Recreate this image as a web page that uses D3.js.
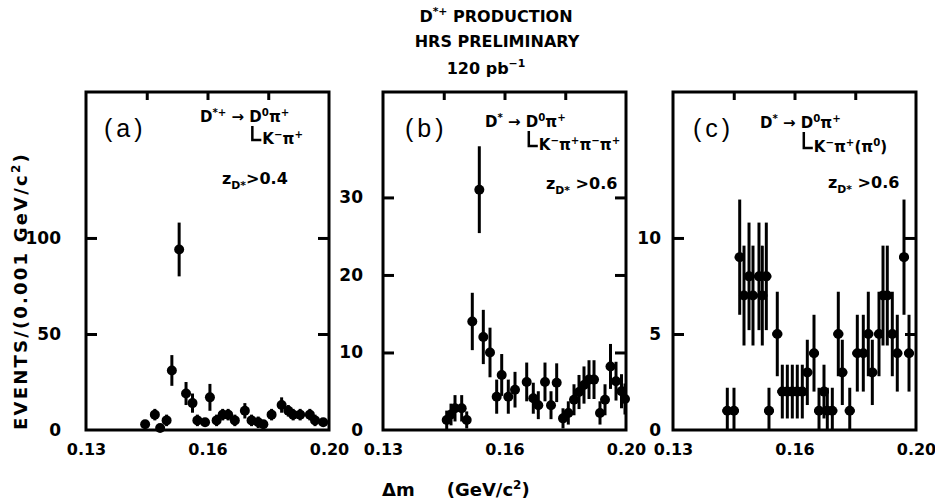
<!DOCTYPE html>
<html><head><meta charset="utf-8">
<script src="https://cdn.jsdelivr.net/npm/d3@7"></script>
<style>body{margin:0;background:#fff} svg{display:block}</style>
</head><body>
<svg id="c" width="935" height="504"></svg>
<script>
// ---- data ----
const xTicks = [0.13, 0.16, 0.20];
const xTickLabels = ["0.13", "0.16", "0.20"];
const xTopTicks = [0.145, 0.16, 0.18];

const aX = [0.1446,0.1470,0.1483,0.1499,0.1512,0.1530,0.1547,0.1563,0.1575,0.1594,0.1608,0.1630,0.1650,0.1668,0.1690,0.1723,0.1745,0.1767,0.1784,0.1811,0.1844,0.1866,0.1882,0.1905,0.1937,0.1954,0.1981];
const aY = [3,8,1,5,31,94,19,14,5,4,17,5,8,8,5,10,5,4,3,8,13,10,8,8,8,5,4];
const aErr = [2,3,2,3,8,14,6,5,3,2,7,3,3,3,3,4,3,3,2,3,4,3,3,3,3,3,2];
const aTicks = [0,50,100];

const bX = [0.14573,0.14679,0.14778,0.14943,0.15067,0.15205,0.15378,0.15477,0.15642,0.15807,0.15931,0.16125,0.16346,0.16731,0.16948,0.17113,0.17333,0.17531,0.17718,0.17926,0.18101,0.18288,0.18453,0.18617,0.18782,0.18947,0.19144,0.19309,0.19490,0.19671,0.19852,0.19967];
const bY = [1.3,2,2.8,2.8,1.3,14,31,12,10,4.3,7.1,4.3,5.2,6.2,4.1,3.2,6.2,3.2,6.1,1.5,2.2,3.9,4.9,5.8,6.5,6.5,2.2,3.9,8.2,6.3,5,4];
const bErr = [1.2,1.4,1.7,1.7,1.1,3.7,5.6,3.5,3.2,2.2,2.7,2.2,2.3,2.5,2,1.8,2.5,1.8,2.5,1.3,1.5,2,2.2,2.4,2.5,2.5,1.5,2,2.9,2.5,2.2,2];
const bTicks = [0,10,20,30];

const cX = [0.14341,0.14506,0.14647,0.14753,0.14877,0.14975,0.15123,0.15205,0.15304,0.15370,0.15575,0.15699,0.15823,0.15946,0.16092,0.16257,0.16422,0.16642,0.16807,0.16971,0.17080,0.17245,0.17442,0.17574,0.17819,0.18068,0.18265,0.18430,0.18562,0.18782,0.18914,0.19055,0.19220,0.19384,0.19605,0.19770];
const cY = [1,1,9,7,8,7,8,7,8,1,5,2,2,2,2,2,3,4,1,2,1,1,5,3,1,4,4,5,3,5,7,7,5,4,9,4];
const cErr = [1.2,1.2,3,2.6,2.8,2.6,2.8,2.6,2.8,1.2,2.2,1.4,1.4,1.4,1.4,1.4,1.7,2,1.2,1.4,1.2,1.2,2.2,1.7,1.2,2,2,2.2,1.7,2.2,2.6,2.6,2.2,2,3,2];
const cTicks = [0,5,10];

// ---- layout ----
const W = 243, TOP = 92, BOT = 430;
const FONT = "'DejaVu Sans', sans-serif";
const AF = 15; // annotation font size
const panels = [
  {left:86,  ymax:176,  ticks:aTicks, xs:aX, ys:aY, es:aErr, pad:25, tag:"(a)", tagX:104,
   l1:[["D"],["*+","sup"],[" → "],["D"],["0","sup"],["π"],["+","sup"]], l1x:200, l1y:122,
   l2:[["K"],["−","sup"],["π"],["+","sup"]], l2y:144,
   l3:[["z"],["D*","sub"],[">0.4"]], l3x:222, l3y:184, hbar:false},
  {left:383, ymax:43.6, ticks:bTicks, xs:bX, ys:bY, es:bErr, pad:20, tag:"(b)", tagX:405,
   l1:[["D"],["*","sup"],[" → "],["D"],["0","sup"],["π"],["+","sup"]], l1x:485, l1y:127,
   l2:[["K"],["−","sup"],["π"],["+","sup"],["π"],["−","sup"],["π"],["+","sup"]], l2y:150,
   l3:[["z"],["D*","sub"],[" >0.6"]], l3x:546, l3y:189, hbar:false},
  {left:673, ymax:17.6, ticks:cTicks, xs:cX, ys:cY, es:cErr, pad:12, tag:"(c)", tagX:693,
   l1:[["D"],["*","sup"],[" → "],["D"],["0","sup"],["π"],["+","sup"]], l1x:760, l1y:128,
   l2:[["K"],["−","sup"],["π"],["+","sup"],["(π"],["0","sup"],[")"]], l2y:152,
   l3:[["z"],["D*","sub"],[" >0.6"]], l3x:828, l3y:188, hbar:true}
];

const svg = d3.select("#c");

function rich(g, parts, x, y, size) {
  const t = g.append("text").attr("x", x).attr("y", y)
    .attr("font-family", FONT).attr("font-weight", "bold").attr("font-size", size);
  let shift = 0;
  parts.forEach(([s, k]) => {
    const sp = t.append("tspan").text(s);
    const target = k === "sup" ? -size*0.42 : k === "sub" ? size*0.32 : 0;
    if (k) sp.attr("font-size", size*0.68);
    sp.attr("dy", target - shift);
    shift = target;
  });
  return t;
}

panels.forEach(p => {
  const x = d3.scaleLinear().domain(xTicks).range([p.left, p.left + W/2, p.left + W]);
  const y = d3.scaleLinear().domain([0, p.ymax]).range([BOT, TOP]);
  const g = svg.append("g");

  g.append("rect").attr("x", p.left).attr("y", TOP).attr("width", W).attr("height", BOT-TOP)
    .attr("fill", "none").attr("stroke", "#000").attr("stroke-width", 3);

  const ax = g.append("g").attr("transform", `translate(${p.left},0)`)
    .call(d3.axisLeft(y).tickValues(p.ticks).tickSize(-11).tickPadding(p.pad).tickFormat(d3.format("d")));
  ax.select(".domain").remove();
  ax.selectAll("line").attr("stroke-width", 3).filter(d => d === 0).remove();
  ax.selectAll("text").attr("font-family", FONT).attr("font-weight", "bold").attr("font-size", 17);

  const ar = g.append("g").attr("transform", `translate(${p.left+W},0)`)
    .call(d3.axisRight(y).tickValues(p.ticks.filter(d => d > 0)).tickSize(-11).tickFormat(""));
  ar.select(".domain").remove();
  ar.selectAll("line").attr("stroke-width", 3);

  const at = g.append("g").attr("transform", `translate(0,${TOP})`)
    .call(d3.axisTop(x).tickValues(xTopTicks).tickSize(-8).tickFormat(""));
  at.select(".domain").remove();
  at.selectAll("line").attr("stroke-width", 3);

  const ab = g.append("g").attr("transform", `translate(0,${BOT})`)
    .call(d3.axisBottom(x).tickValues(xTicks).tickSize(0).tickPadding(14)
      .tickFormat((d, i) => xTickLabels[i]));
  ab.select(".domain").remove();
  ab.selectAll("text").attr("font-family", FONT).attr("font-weight", "bold").attr("font-size", 16);

  const pts = p.xs.map((v, i) => ({x: v, y: p.ys[i], e: p.es[i]}));
  const dg = g.append("g");
  dg.selectAll("line.eb").data(pts).join("line").attr("class", "eb")
    .attr("x1", d => x(d.x)).attr("x2", d => x(d.x))
    .attr("y1", d => y(Math.max(0, d.y - d.e))).attr("y2", d => y(d.y + d.e))
    .attr("stroke", "#000").attr("stroke-width", 3);
  if (p.hbar) {
    dg.selectAll("line.hb").data(pts).join("line").attr("class", "hb")
      .attr("x1", d => x(d.x) - 5).attr("x2", d => x(d.x) + 5)
      .attr("y1", d => y(d.y)).attr("y2", d => y(d.y))
      .attr("stroke", "#000").attr("stroke-width", 3);
  }
  dg.selectAll("circle").data(pts).join("circle")
    .attr("cx", d => x(d.x)).attr("cy", d => y(d.y)).attr("r", 5).attr("fill", "#000");

  // annotations
  g.append("text").attr("x", p.tagX).attr("y", 137).text(p.tag)
    .attr("font-family", "'Liberation Sans', sans-serif").attr("font-size", 25)
    .attr("letter-spacing", 4);
  const t1 = rich(g, p.l1, p.l1x, p.l1y, AF);
  const spans = t1.selectAll("tspan").nodes();
  let hookX = p.l1x;
  try { hookX = spans[3].getStartPositionOfChar(0).x + 3; } catch(e) {}
  g.append("path").attr("d", `M${hookX},${p.l1y+4} V${p.l2y-4} H${hookX+9}`)
    .attr("fill", "none").attr("stroke", "#000").attr("stroke-width", 2.5);
  rich(g, p.l2, hookX + 10, p.l2y, AF);
  rich(g, p.l3, p.l3x, p.l3y, 16);
});

// titles
const tt = svg.append("g").attr("font-family", FONT).attr("font-weight", "bold").attr("font-size", 16)
  .attr("text-anchor", "middle");
rich(tt, [["D"],["*+","sup"],["  PRODUCTION"]], 496, 22, 16);
tt.append("text").attr("x", 497).attr("y", 47).text("HRS PRELIMINARY");
rich(tt, [["120 pb"],["−1","sup"]], 486, 74, 16);

// axis titles
svg.append("text").attr("transform", "translate(27,291) rotate(-90)").attr("text-anchor", "middle")
  .attr("font-family", FONT).attr("font-weight", "bold").attr("font-size", 18)
  .attr("letter-spacing", 2.2)
  .selectAll("tspan").data([["EVENTS/(0.001 GeV/c",0],["2",1],[")",2]]).join("tspan")
  .text(d => d[0])
  .attr("font-size", d => d[1] === 1 ? 12 : 18)
  .attr("dy", d => d[1] === 1 ? -7 : d[1] === 2 ? 7 : 0);

const xl = svg.append("text").attr("x", 382).attr("y", 496)
  .attr("font-family", FONT).attr("font-weight", "bold").attr("font-size", 18);
xl.append("tspan").text("Δm");
xl.append("tspan").attr("dx", 32).text("(GeV/c");
xl.append("tspan").text("2").attr("font-size", 12).attr("dy", -7);
xl.append("tspan").text(")").attr("dy", 7);
</script>
</body></html>
